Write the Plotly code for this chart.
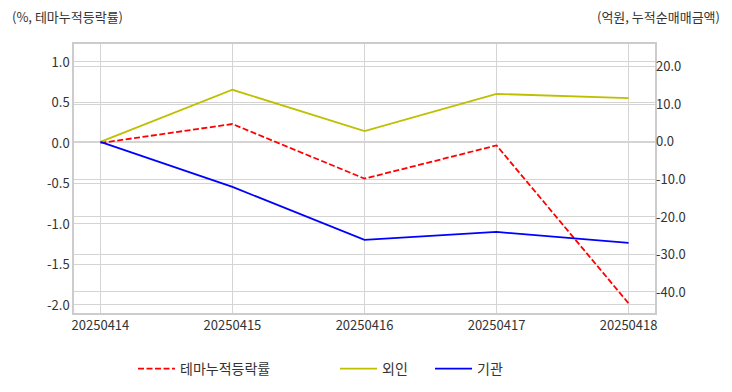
import plotly.graph_objects as go

dates = ["20250414", "20250415", "20250416", "20250417", "20250418"]
theme_rate = [0.0, 0.234, -0.44, -0.03, -1.98]
foreign = [0.0, 13.9, 2.9, 12.8, 11.7]
institution = [0.0, -12.0, -26.1, -24.0, -26.9]

left_ticks = [1.0, 0.5, 0.0, -0.5, -1.0, -1.5, -2.0]
right_ticks = [20, 10, 0, -10, -20, -30, -40]

FONT = "Noto Sans CJK KR"
GRID = "#d4d4d4"
TXT = "#333333"

# page body has an 8px margin; size so nothing overflows the 732x392 window,
# and plot area lands at page x 74..655, y 44..313
OFF = 8
W, H = 732 - 2 * OFF, 392 - 2 * OFF
ML = 74 - OFF
MR = W - (655 - OFF)
MT = 44 - OFF
MB = H - (313 - OFF)
PW = W - ML - MR
PH = H - MT - MB


def px(p):
    return (p - OFF - ML) / PW


def py(p):
    return 1 - (p - OFF - MT) / PH


def cx(p):
    return (p - OFF) / W


def cy(p):
    return 1 - (p - OFF) / H


xs = list(range(len(dates)))
fig = go.Figure()
fig.add_trace(go.Scatter(x=xs, y=theme_rate, name="테마누적등락률", legend="legend",
                         mode="lines", line=dict(color="red", width=1.8, dash="6px,2.5px"),
                         yaxis="y"))
fig.add_trace(go.Scatter(x=xs, y=foreign, name="외인", legend="legend2",
                         mode="lines", line=dict(color="#bfbf00", width=1.8), yaxis="y2"))
fig.add_trace(go.Scatter(x=xs, y=institution, name="기관", legend="legend3",
                         mode="lines", line=dict(color="blue", width=1.8), yaxis="y2"))

leg_common = dict(orientation="h", xanchor="left", yanchor="middle",
                  xref="container", yref="container", y=cy(369), itemwidth=37,
                  font=dict(size=14, color=TXT), bgcolor="rgba(0,0,0,0)")

fig.update_layout(
    width=W, height=H,
    margin=dict(l=ML, r=MR, t=MT, b=MB, autoexpand=False),
    paper_bgcolor="white", plot_bgcolor="white",
    font=dict(family=FONT, size=13, color=TXT),
    showlegend=True,
    legend=dict(x=cx(133), **leg_common),
    legend2=dict(x=cx(335), **leg_common),
    legend3=dict(x=cx(430), **leg_common),
    xaxis=dict(range=[-0.2, 4.2], tickvals=xs, ticktext=dates,
               showgrid=True, gridcolor=GRID, zeroline=False,
               showline=True, linecolor="#cccccc", linewidth=1.5, mirror=True,
               ticks="", tickfont=dict(size=13, color=TXT)),
    yaxis=dict(range=[-2.099, 1.222], tickvals=left_ticks,
               ticktext=["%.1f" % v for v in left_ticks],
               showgrid=True, gridcolor=GRID, zeroline=False,
               showline=True, linecolor="#cccccc", linewidth=1.5, mirror=True,
               ticks="", tickfont=dict(size=13, color=TXT)),
    yaxis2=dict(range=[-45.6, 26.1], overlaying="y", side="right", tickvals=right_ticks,
                ticktext=["%.1f" % v for v in right_ticks],
                showgrid=True, gridcolor=GRID, zeroline=False,
                ticks="", tickfont=dict(size=13, color=TXT)),
    annotations=[
        dict(text="(%, 테마누적등락률)", xref="paper", yref="paper", x=px(10), y=py(16),
             xanchor="left", yanchor="middle", showarrow=False,
             font=dict(size=13, color=TXT)),
        dict(text="(억원, 누적순매매금액)", xref="paper", yref="paper", x=px(722), y=py(16),
             xanchor="right", yanchor="middle", showarrow=False,
             font=dict(size=13, color=TXT)),
    ],
)

fig.write_html("out.html")
